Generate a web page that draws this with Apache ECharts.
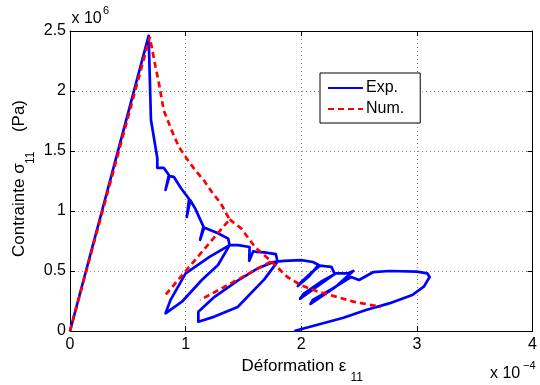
<!DOCTYPE html>
<html>
<head>
<meta charset="utf-8">
<script src="https://cdn.jsdelivr.net/npm/echarts@6/dist/echarts.min.js"></script>
<style>html,body{margin:0;padding:0;background:#fff}#c{width:540px;height:385px}</style>
</head>
<body>
<div id="c"></div>
<script>
// Tick labels
var xTicks = ['0', '1', '2', '3', '4'];
var yTicks = ['0', '0.5', '1', '1.5', '2', '2.5'];
var seriesNames = ['Exp.', 'Num.'];

// Experimental curve (strain x1e-4, stress x1e6)
var expData = [
  [0, 0], [0.68, 2.46], [0.70, 1.76], [0.755, 1.44], [0.755, 1.36], [0.81, 1.36],
  [0.855, 1.30], [0.826, 1.175], [0.86, 1.29], [0.897, 1.285], [0.96, 1.19],
  [1.03, 1.10], [1.01, 0.95], [1.04, 1.09], [1.083, 1.02], [1.154, 0.87],
  [1.125, 0.76], [1.16, 0.86], [1.18, 0.855], [1.28, 0.815], [1.368, 0.77],
  [1.38, 0.716],
  [1.21, 0.62], [1.0, 0.48], [0.87, 0.26], [0.826, 0.147], [0.968, 0.244],
  [1.14, 0.425], [1.28, 0.55], [1.38, 0.716],
  [1.453, 0.716], [1.553, 0.70], [1.565, 0.685], [1.55, 0.585], [1.585, 0.665],
  [1.61, 0.66], [1.68, 0.655], [1.78, 0.64], [1.795, 0.578],
  [1.68, 0.43], [1.45, 0.20], [1.25, 0.12], [1.11, 0.077], [1.11, 0.16],
  [1.25, 0.285], [1.45, 0.42], [1.62, 0.52], [1.76, 0.575],
  [1.85, 0.585], [2.0, 0.59], [2.10, 0.575], [2.15, 0.55],
  [2.06, 0.45], [1.97, 0.375], [1.99, 0.40], [2.08, 0.48], [2.16, 0.545],
  [2.20, 0.54], [2.26, 0.535], [2.29, 0.475],
  [2.15, 0.38], [1.99, 0.27], [2.02, 0.31], [2.17, 0.41], [2.30, 0.48],
  [2.40, 0.48], [2.45, 0.50],
  [2.30, 0.37], [2.08, 0.225], [2.10, 0.26], [2.28, 0.36], [2.43, 0.45],
  [2.50, 0.425], [2.62, 0.49], [2.76, 0.50], [3.0, 0.495], [3.09, 0.48],
  [3.11, 0.45], [3.06, 0.37], [2.96, 0.30], [2.76, 0.23], [2.56, 0.175],
  [2.365, 0.11], [1.94, 0]
];

// Numerical curve ('-' = pen up, the unloading branches are traced once)
var numData = [
  [0, 0], [0.69, 2.45], [0.74, 2.2], [0.77, 2.06], [0.81, 1.84], [0.88, 1.67],
  [0.94, 1.536], [1.0, 1.45], [1.083, 1.34], [1.154, 1.26], [1.24, 1.14],
  [1.30, 1.07], [1.38, 0.93],
  [0.812, 0.286], ['-', '-'], [1.38, 0.93],
  [1.48, 0.855], [1.60, 0.70], [1.74, 0.58],
  [1.125, 0.258], ['-', '-'], [1.74, 0.58],
  [1.88, 0.45], [2.0, 0.38], [2.14, 0.33], [2.45, 0.245], [2.69, 0.20]
];

var FONT = 'Liberation Sans, Arial, sans-serif';
var chart = echarts.init(document.getElementById('c'), null, {renderer: 'canvas'});

function txt(x, y, s, size, align) {
  return {type: 'text', x: x, y: y, silent: true,
    style: {text: s, fontSize: size, fontFamily: FONT, fill: '#000',
      textAlign: align || 'left', align: align || 'left',
      textVerticalAlign: 'middle', verticalAlign: 'middle'}};
}

var option = {
  animation: false,
  backgroundColor: '#fff',
  grid: {left: 70, right: 2, top: 31, bottom: 54, containLabel: false},
  legend: {
    orient: 'vertical', left: 320, top: 73,
    data: seriesNames,
    itemWidth: 35, itemHeight: 14, itemGap: 5,
    padding: [7, 16, 6, 7],
    borderColor: '#000', borderWidth: 1, backgroundColor: '#fff',
    itemStyle: {opacity: 0},
    textStyle: {fontSize: 16, fontFamily: FONT, color: '#000', padding: [0, 0, 0, -2]}
  },
  xAxis: [{
    type: 'value', min: 0, max: 4, interval: 1, position: 'bottom',
    axisLine: {show: true, onZero: false, lineStyle: {color: '#000', width: 1}},
    axisTick: {show: true, inside: true, length: 5, lineStyle: {color: '#000'}},
    axisLabel: {color: '#000', fontSize: 16, fontFamily: FONT, margin: 6,
      formatter: function (v) { return xTicks[Math.round(v)]; }},
    splitLine: {show: true, lineStyle: {color: '#888', width: 1, type: [1, 3]}}
  }, {
    type: 'value', min: 0, max: 4, interval: 1, position: 'top',
    axisLine: {show: true, onZero: false, lineStyle: {color: '#000', width: 1}},
    axisTick: {show: true, inside: true, length: 5, lineStyle: {color: '#000'}},
    axisLabel: {show: false}, splitLine: {show: false}
  }],
  yAxis: [{
    type: 'value', min: 0, max: 2.5, interval: 0.5, position: 'left',
    axisLine: {show: true, onZero: false, lineStyle: {color: '#000', width: 1}},
    axisTick: {show: true, inside: true, length: 5, lineStyle: {color: '#000'}},
    axisLabel: {color: '#000', fontSize: 16, fontFamily: FONT, margin: 4,
      formatter: function (v) { return yTicks[Math.round(v * 2)]; }},
    splitLine: {show: true, lineStyle: {color: '#888', width: 1, type: [1, 3]}}
  }, {
    type: 'value', min: 0, max: 2.5, interval: 0.5, position: 'right',
    axisLine: {show: true, onZero: false, lineStyle: {color: '#000', width: 1}},
    axisTick: {show: true, inside: true, length: 5, lineStyle: {color: '#000'}},
    axisLabel: {show: false}, splitLine: {show: false}
  }],
  series: [{
    name: seriesNames[0], type: 'line', data: expData, symbol: 'none',
    xAxisIndex: 0, yAxisIndex: 0, connectNulls: false,
    lineStyle: {color: '#0000ff', width: 2.7, join: 'round'},
    itemStyle: {color: '#0000ff'}
  }, {
    name: seriesNames[1], type: 'line', data: numData, symbol: 'none',
    xAxisIndex: 0, yAxisIndex: 0, connectNulls: false,
    lineStyle: {color: '#ff0000', width: 2.7, type: [6, 4]},
    itemStyle: {color: '#ff0000'}
  }],
  graphic: [
    txt(71.5, 19, 'x 10', 16), txt(103, 11, '6', 11),
    txt(490, 374, 'x 10', 16), txt(523, 366, '\u22124', 11),
    txt(241.5, 366, 'Déformation ε', 17), txt(350.5, 378, '11', 12),
    {type: 'group', x: 19.5, y: 257, rotation: Math.PI / 2, children: [
      txt(0, 0, 'Contrainte σ', 17), txt(93, 11, '11', 12), txt(157, 0, '(Pa)', 17, 'right')
    ]}
  ]
};
chart.setOption(option);
</script>
</body>
</html>
